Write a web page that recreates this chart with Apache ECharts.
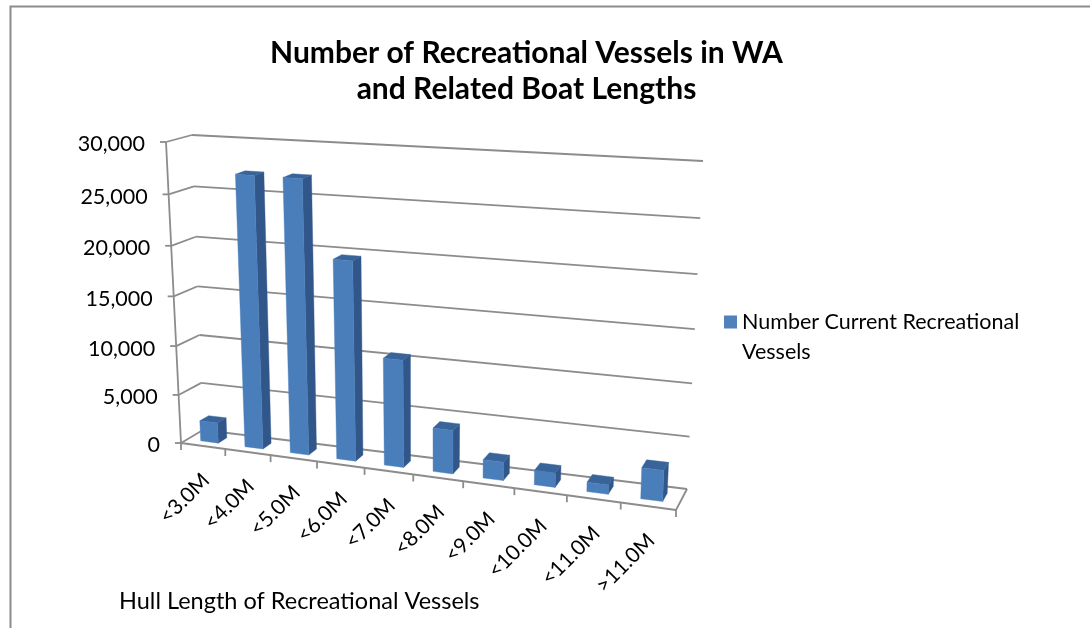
<!DOCTYPE html>
<html><head><meta charset="utf-8">
<style>html,body{margin:0;padding:0;background:#fff}#c{width:1090px;height:628px}</style>
<script src="https://cdn.jsdelivr.net/npm/echarts@6/dist/echarts.min.js"></script>
</head><body><div id="c"></div>
<script>
const categories = ['<3.0M','<4.0M','<5.0M','<6.0M','<7.0M','<8.0M','<9.0M','<10.0M','<11.0M','>11.0M'];
const vessels = [2100,27100,27100,19700,10600,4300,1800,1400,900,2950];
const yTicks = [0,5000,10000,15000,20000,25000,30000];
const yTickLabels = ['0','5,000','10,000','15,000','20,000','25,000','30,000'];
const seriesName = 'Number Current Recreational Vessels';

// 3D view of the plot box, applied to the axis coordinates
const FBL=[181,443], FBR=[676,510], FTL=[166,142], FTR=[688,176];
const BBL=[203,430], BBR=[687,489], BTL=[192,135], BTR=[703,161];
const KX=0.884, KY=0.95, GAP_FRONT=0.3, GAP_BACK=0.7;
const proj=(s,k)=>k*s/(1+(k-1)*s);
const mix=(a,b,s)=>[a[0]+(b[0]-a[0])*s,a[1]+(b[1]-a[1])*s];
function P(u,t,d){
  const su=proj(u,KX), st=proj(t,KY);
  const f=mix(mix(FBL,FBR,su),mix(FTL,FTR,su),st);
  const b=mix(mix(BBL,BBR,su),mix(BTL,BTR,su),st);
  return mix(f,b,d);
}
function norm(api,params,cat,val){
  const c=api.coord([cat,val]), g=params.coordSys;
  return [(c[0]-g.x)/g.width,(g.y+g.height-c[1])/g.height];
}
const GRID='#8c8c8c';
const line=(a,b,w)=>({type:'line',shape:{x1:a[0],y1:a[1],x2:b[0],y2:b[1]},style:{stroke:GRID,lineWidth:w||1.8}});
const poly=(pts,fill)=>({type:'polygon',shape:{points:pts},style:{fill:fill,stroke:fill,lineWidth:0.4}});

function renderWall(params,api){
  const [,t]=norm(api,params,0,api.value(1));
  const kids=[line(P(0,t,1),P(1,t,1)),line(P(0,t,0),P(0,t,1))];
  const a=P(0,t,0);
  kids.push(line(a,[a[0]-6,a[1]]));
  kids.push({type:'text',style:{text:yTickLabels[params.dataIndex],x:a[0]-21,y:a[1]+2.5,align:'right',verticalAlign:'middle',
    font:'21.5px Lato',fill:'#000'}});
  if(params.dataIndex===0){
    kids.push(line(P(0,0,0),P(1,0,0)),line(P(1,0,0),P(1,0,1)));
  } else if(params.dataIndex===yTicks.length-1){
    kids.push(line(P(0,0,0),P(0,t,0)));
  }
  return {type:'group',children:kids};
}
function renderXTicks(params,api){
  const i=api.value(0), g=params.coordSys, bw=api.size([1,0])[0]/g.width;
  const [uc]=norm(api,params,i,0);
  const kids=[];
  const tick=u=>{const p=P(u,0,0);kids.push(line(p,[p[0],p[1]+7]));};
  tick(uc+bw/2);
  if(i===0) tick(uc-bw/2);
  const m=P(uc,0,0);
  kids.push({type:'text',x:m[0]+3,y:m[1]+31,rotation:Math.PI/4,
    style:{text:categories[i],x:0,y:0,align:'right',verticalAlign:'middle',font:'21px Lato',fill:'#000'}});
  return {type:'group',children:kids};
}
function renderBar(params,api){
  const i=api.value(0), g=params.coordSys, bw=api.size([1,0])[0]/g.width*0.4;
  const [uc,t]=norm(api,params,i,api.value(1));
  const l=uc-bw/2, r=uc+bw/2, f=GAP_FRONT, b=GAP_BACK;
  return {type:'group',children:[
    poly([P(r,0,f),P(r,0,b),P(r,t,b),P(r,t,f)],'#31568a'),
    poly([P(l,t,f),P(r,t,f),P(r,t,b),P(l,t,b)],'#386499'),
    poly([P(l,0,f),P(r,0,f),P(r,t,f),P(l,t,f)],'#4a7ebb')
  ]};
}
const option={
  animation:false,backgroundColor:'#fff',
  title:[
    {text:'Number of Recreational Vessels in WA\nand Related Boat Lengths',left:521.5,top:30,textAlign:'center',
     textStyle:{fontFamily:'Lato',fontWeight:'bold',fontSize:30,lineHeight:36,color:'#000'}},
    {text:'Hull Length of Recreational Vessels',left:114,top:584,
     textStyle:{fontFamily:'Lato',fontWeight:'normal',fontSize:23.5,color:'#000'}}
  ],
  legend:{data:[seriesName],left:719,top:272,orient:'vertical',icon:'rect',itemWidth:13,itemHeight:13,itemGap:0,
    formatter:()=>'\nNumber Current Recreational\nVessels',
    textStyle:{fontFamily:'Lato',fontSize:21.5,lineHeight:30,color:'#000'}},
  grid:{left:181,top:142,width:495,height:301},
  xAxis:{type:'category',data:categories,show:false},
  yAxis:{type:'value',min:0,max:30000,interval:5000,show:false},
  graphic:[{type:'polyline',silent:true,shape:{points:[[10.5,640],[10.5,6.5],[1100,6.5]]},
    style:{fill:null,stroke:'#8c8c8c',lineWidth:2}}],
  series:[
    {type:'custom',name:'Gridlines',renderItem:renderWall,data:yTicks.map(v=>[0,v]),silent:true,z:1},
    {type:'custom',name:'Categories',renderItem:renderXTicks,data:categories.map((c,i)=>[i,0]),silent:true,z:1},
    {type:'custom',name:seriesName,renderItem:renderBar,data:vessels.map((v,i)=>[i,v]),itemStyle:{color:'#4f81bd'},z:2}
  ]
};
echarts.init(document.getElementById('c'),null,{renderer:'canvas'}).setOption(option);
</script></body></html>
